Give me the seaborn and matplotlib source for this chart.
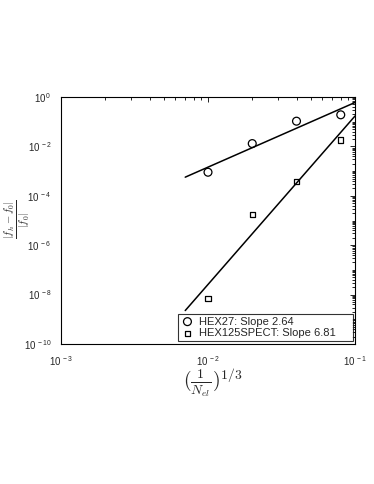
import numpy as np
import pandas as pd
import seaborn as sns
import matplotlib
matplotlib.use("Agg")
import matplotlib.pyplot as plt
from matplotlib import ticker

sns.set_theme(style="white")
plt.rcParams['font.family'] = ['Liberation Sans', 'DejaVu Sans']
plt.rcParams['mathtext.fontset'] = 'cm'

# data
h = [0.01, 0.02, 0.04, 0.08]
err_hex27 = [9e-4, 1.3e-2, 1.05e-1, 1.9e-1]
err_hex125 = [7.2e-9, 1.8e-5, 3.9e-4, 1.8e-2]
series = ["HEX27", "HEX125SPECT"]
fit_range = [0.007, 0.1]

df = pd.DataFrame({
    "h": h * 2,
    "err": err_hex27 + err_hex125,
    "elem": [series[0]] * len(h) + [series[1]] * len(h),
})

fig = plt.figure(figsize=(3.74, 4.84), dpi=100)
ax = fig.add_axes([61 / 374, 1 - 344 / 484, 294 / 374, 247 / 484])

# least squares fits in log space
fit_rows = []
for name, errs in zip(series, [err_hex27, err_hex125]):
    p = np.polyfit(np.log10(h), np.log10(errs), 1)
    for x in fit_range:
        fit_rows.append({"h": x, "err": 10 ** np.polyval(p, np.log10(x)), "elem": name})
fit_df = pd.DataFrame(fit_rows)

for name in series:
    sns.lineplot(data=fit_df[fit_df.elem == name], x="h", y="err", color="black",
                 lw=1.1, ax=ax, legend=False)

labels = {"HEX27": "HEX27: Slope 2.64", "HEX125SPECT": "HEX125SPECT: Slope 6.81"}
markers = {"HEX27": "o", "HEX125SPECT": "s"}
sizes = {"HEX27": 32, "HEX125SPECT": 14}
for name in series:
    sub = df[df.elem == name]
    sns.scatterplot(data=sub, x="h", y="err", marker=markers[name], s=sizes[name],
                    facecolor="none", edgecolor="black", linewidth=0.9,
                    label=labels[name], ax=ax)

ax.set_xscale("log")
ax.set_yscale("log")
ax.set_xlim(1e-3, 1e-1)
ax.set_ylim(1e-10, 1e0)

sci = ticker.FuncFormatter(lambda v, pos: r"$\mathdefault{10^{\,%d}}$" % round(np.log10(v)))
ax.yaxis.set_major_locator(ticker.FixedLocator(10.0 ** np.arange(-10, 1, 2)))
ax.yaxis.set_major_formatter(sci)
ax.yaxis.set_minor_locator(ticker.LogLocator(base=10, subs=np.arange(1, 10), numticks=100))
ax.xaxis.set_major_locator(ticker.FixedLocator(10.0 ** np.arange(-3, 0)))
ax.xaxis.set_major_formatter(sci)
ax.xaxis.set_minor_locator(ticker.LogLocator(base=10, subs=np.arange(2, 10), numticks=100))
ax.yaxis.set_minor_formatter(ticker.NullFormatter())
ax.xaxis.set_minor_formatter(ticker.NullFormatter())

ax.tick_params(which="both", direction="in", top=True, right=True, colors="black",
               labelsize=7, width=0.6, labelcolor="#262626")
ax.tick_params(which="major", length=3.5, pad=7)
ax.tick_params(which="minor", length=2)
for s in ax.spines.values():
    s.set_color("black")
    s.set_linewidth(0.8)

ax.set_xlabel(r"$(\frac{1}{N_{el}})^{1/3}$", fontsize=14)
ax.set_ylabel(r"$\frac{|f_h - f_0|}{|f_0|}$", fontsize=11)
ax.xaxis.set_label_coords((213 - 61) / 294, (344 - 366) / 247)
ax.yaxis.set_label_coords((32 - 61) / 294, (344 - 219) / 247)

leg = ax.legend(loc="lower left", bbox_to_anchor=(117 / 294, 3 / 247, 175 / 294, 29 / 247),
                mode="expand", borderaxespad=0, fontsize=8, frameon=True, fancybox=False,
                edgecolor="black", borderpad=0.25, labelspacing=0.15,
                handletextpad=0.4, handlelength=1.2)
leg.get_frame().set_linewidth(0.8)

plt.savefig("out.png", dpi=100)
